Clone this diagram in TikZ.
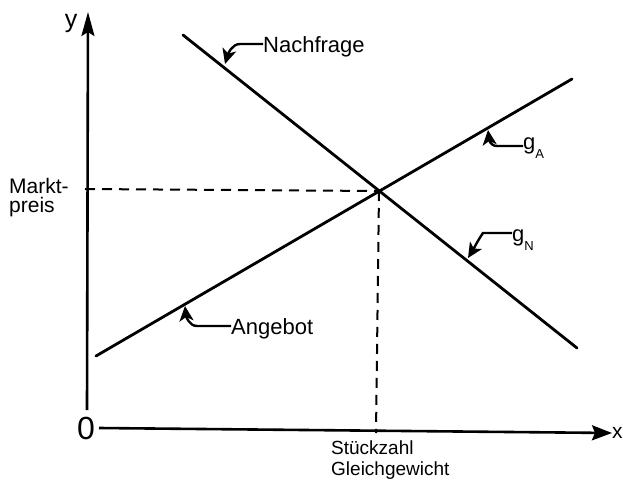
\documentclass[tikz,border=0pt]{standalone}
\usepackage{fontspec}
\setmainfont{Liberation Sans}
\usetikzlibrary{arrows.meta}
\begin{document}
\begin{tikzpicture}[x=1pt,y=-1pt,
  curve/.style={line width=2.8pt, line cap=round},
  axis/.style={line width=2.6pt},
  yaxis/.style={axis, -{Stealth[length=24pt,width=13pt,inset=4pt]}},
  xaxis/.style={axis, -{Stealth[length=20pt,width=15pt,inset=3pt]}},
  guide/.style={line width=2pt, dash pattern=on 10pt off 7pt},
  leader/.style={line width=2.4pt, -{Stealth[length=15pt,width=14pt,inset=4pt]}},
  lbl/.style={inner sep=0pt, anchor=base west, font=\fontsize{22}{26}\selectfont},
  small/.style={inner sep=0pt, anchor=base west, font=\fontsize{19}{22}\selectfont},
]
\useasboundingbox (0,0) rectangle (623,481);
% axes
\coordinate (ybot) at (87,410);
\coordinate (ytop) at (88,12);
\coordinate (xstart) at (99,428);
\coordinate (xend) at (612,433);
\draw[yaxis] (ybot) -- (ytop);
\draw[xaxis] (xstart) -- (xend);
\node[inner sep=0pt, anchor=base, font=\fontsize{25}{28}\selectfont] (ylab) at (71,28) {y};
\node[inner sep=0pt, anchor=base west, font=\fontsize{21}{24}\selectfont] (xlab) at (612,438) {x};
\node[inner sep=0pt, anchor=base, font=\fontsize{32}{36}\selectfont] (zero) at (86,439) {0};
% curves
\coordinate (D1) at (183,35);
\coordinate (D2) at (577,348);
\coordinate (S1) at (96,356);
\coordinate (S2) at (572,79);
\coordinate (E) at (379,191);
\draw[curve] (D1) -- (D2);
\draw[curve] (S1) -- (S2);
% guides
\coordinate (P) at (85,189);
\coordinate (Q) at (376,433);
\draw[guide] (P) -- (E);
\draw[guide] (E) -- (Q);
% labels
\node[inner sep=0pt, anchor=north west, align=left, font=\fontsize{21}{19}\selectfont] (mk) at (9,178) {Markt-\\preis};
\node[small, align=left, anchor=north west, font=\fontsize{19}{21}\selectfont] (st) at (331,441) {Stückzahl\\Gleichgewicht};
\node[lbl] (nf) at (263,53) {Nachfrage};
\node[lbl] (ang) at (231,334) {Angebot};
\node[lbl] (gA) at (523,150) {g\raisebox{-9pt}{\fontsize{13}{13}\selectfont A}};
\node[lbl] (gN) at (512,241.5) {g\raisebox{-8.5pt}{\fontsize{13}{13}\selectfont N}};
% leaders
\coordinate (tN) at (225,64);
\coordinate (tA) at (488,130);
\coordinate (tgN) at (468,258);
\coordinate (tS) at (185,306);
\draw[leader] (nf.west |- 0,44) -- (240,44) .. controls (232,44) and (228,54) .. (tN);
\draw[leader] (gA.west |- 0,146) -- (497,146) .. controls (490,146) and (489,139) .. (tA);
\draw[leader] (gN.west |- 0,233) -- (483,233) .. controls (478,240) and (473,250) .. (tgN);
\draw[leader] (ang.west |- 0,326) -- (197,326) .. controls (189,326) and (186,316) .. (tS);
\end{tikzpicture}
\end{document}
